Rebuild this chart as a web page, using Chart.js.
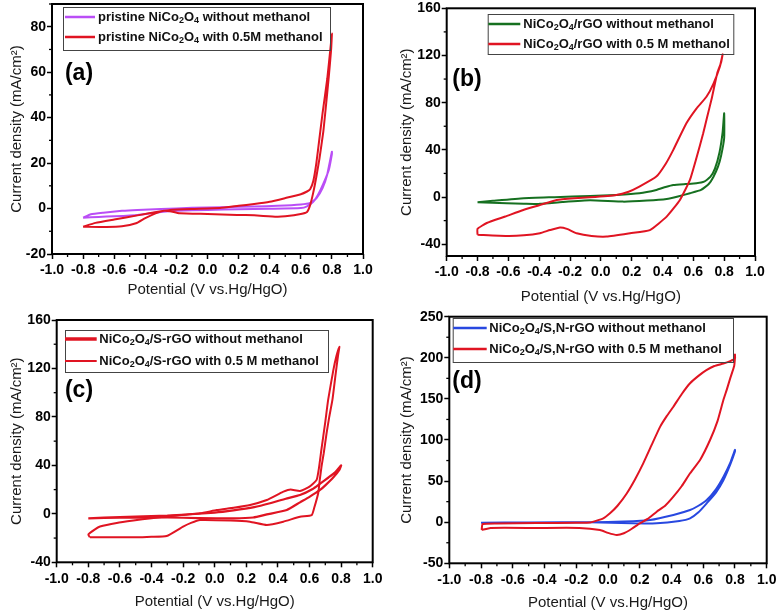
<!DOCTYPE html>
<html><head><meta charset="utf-8">
<script src="https://cdn.jsdelivr.net/npm/chart.js@4.4.1/dist/chart.umd.min.js"></script>
<style>
html,body{margin:0;padding:0;background:#fff;}
#wrap{position:relative;width:780px;height:612px;overflow:hidden;background:#fff;}
canvas{position:absolute;}
</style></head><body>
<div id="wrap">
<canvas id="ca" width="390" height="300" style="left:0;top:0"></canvas>
<canvas id="cb" width="390" height="310" style="left:390px;top:0"></canvas>
<canvas id="cc" width="390" height="312" style="left:0;top:300px"></canvas>
<canvas id="cd" width="390" height="312" style="left:390px;top:300px"></canvas>
</div>
<script>
// ---------- tick labels ----------
const potentialTicks = [-1.0,-0.8,-0.6,-0.4,-0.2,0.0,0.2,0.4,0.6,0.8,1.0];
const aCurrentTicks = [-20,0,20,40,60,80];
const bCurrentTicks = [-40,0,40,80,120,160];
const cCurrentTicks = [-40,0,40,80,120,160];
const dCurrentTicks = [-50,0,50,100,150,200,250];

// ---------- legend texts ----------
const aLabels = ['pristine NiCo_2O_4 without methanol','pristine NiCo_2O_4 with 0.5M methanol'];
const bLabels = ['NiCo_2O_4/rGO without methanol','NiCo_2O_4/rGO with 0.5 M methanol'];
const cLabels = ['NiCo_2O_4/S-rGO without methanol','NiCo_2O_4/S-rGO with 0.5 M methanol'];
const dLabels = ['NiCo_2O_4/S,N-rGO without methanol','NiCo_2O_4/S,N-rGO with 0.5 M methanol'];

// ---------- (a) pristine NiCo2O4 ----------
const aPlain_V = [-0.80,-0.75,-0.67,-0.55,-0.45,-0.30,-0.10,0.10,0.30,0.45,0.60,0.66,0.70,0.74,0.77,0.80,
                  0.80,0.78,0.745,0.71,0.68,0.64,0.60,0.40,0.20,0.00,-0.20,-0.30,-0.45,-0.60,-0.70,-0.80];
const aPlain_I = [-4.0,-2.5,-1.8,-1.0,-0.6,-0.2,0.3,0.6,0.9,1.2,1.8,2.5,4.5,9.0,15,25,
                  24,17,11,6,3.0,1.0,0.2,-0.1,-0.3,-0.6,-1.0,-1.5,-2.8,-3.4,-3.7,-4.0];
const aMeOH_V = [-0.80,-0.72,-0.60,-0.45,-0.30,-0.24,-0.10,0.08,0.20,0.30,0.40,0.50,0.60,0.64,0.66,0.68,0.70,0.72,0.74,0.77,0.79,0.80,
                 0.795,0.78,0.76,0.745,0.72,0.70,0.68,0.66,0.64,0.60,0.50,0.445,0.30,0.19,0.00,-0.18,-0.24,-0.28,-0.33,-0.40,-0.46,-0.55,-0.65,-0.80];
const aMeOH_I = [-8.0,-6.3,-4.8,-3.0,-1.2,-0.6,-0.2,0.2,1.2,2.0,3.0,4.6,6.3,7.5,8.5,12,20,31,42,57,70,77,
                 70,58,44,34,22,14,7,1.5,-1.5,-2.4,-3.4,-3.6,-3.0,-2.8,-2.4,-2.1,-1.2,-1.0,-2.0,-4.2,-6.5,-7.8,-8.1,-8.0];

// ---------- (b) NiCo2O4/rGO ----------
const bPlain_V = [-0.80,-0.70,-0.50,-0.30,-0.07,0.10,0.25,0.36,0.42,0.47,0.55,0.62,0.67,0.71,0.74,0.77,0.79,0.80,
                  0.80,0.78,0.76,0.73,0.70,0.65,0.578,0.50,0.427,0.30,0.145,-0.07,-0.25,-0.395,-0.50,-0.61,-0.80];
const bPlain_I = [-4.4,-3.2,-1.0,-0.1,0.9,1.8,3.2,6.0,8.5,10.2,11.0,11.6,13.0,17,24,38,55,71,
                  50,35,25.8,17,11,6,3.2,0.5,-1.6,-3.0,-3.9,-2.7,-4.2,-5.8,-5.6,-5.3,-4.4];
const bMeOH_V = [-0.80,-0.80,-0.74,-0.62,-0.503,-0.40,-0.287,-0.17,-0.07,0.10,0.18,0.25,0.36,0.42,0.47,0.555,0.62,0.685,0.73,0.772,0.79,
                 0.78,0.755,0.72,0.69,0.664,0.62,0.578,0.513,0.427,0.318,0.19,0.038,-0.06,-0.157,-0.22,-0.265,-0.33,-0.395,-0.50,-0.611,-0.80];
const bMeOH_I = [-32,-27,-22,-16.5,-11,-7,-2.5,-1.0,-0.2,1.8,4.5,8.8,17.3,28,40,62.5,75,85,96,110.5,121,
                 114,105,84,68,54,33,14.5,-2.5,-16.6,-28,-30.7,-33.5,-33,-30.7,-27,-25.8,-28,-30.7,-32.5,-33,-32];

// ---------- (c) NiCo2O4/S-rGO ----------
const cPlain_V = [-0.80,-0.60,-0.30,0.00,0.118,0.25,0.35,0.45,0.54,0.62,0.667,0.72,0.76,0.80,
                  0.79,0.75,0.70,0.667,0.60,0.54,0.456,0.33,0.244,0.118,-0.10,-0.30,-0.60,-0.80];
const cPlain_I = [-3.7,-2.6,-1.5,1.0,2.8,5.5,8.7,12.5,15.5,20.5,25,30,34,40,
                  36.5,30,23.5,19.7,14,9.5,3.1,-0.5,-3.0,-3.7,-3.5,-3.0,-3.2,-3.7];
const cMeOH_V = [-0.79,-0.80,-0.76,-0.726,-0.62,-0.515,-0.40,-0.304,-0.093,0.013,0.12,0.224,0.33,0.40,0.435,0.48,0.54,0.60,0.645,0.66,0.675,0.70,0.718,0.75,0.77,0.789,
                 0.78,0.765,0.745,0.725,0.708,0.69,0.676,0.665,0.655,0.63,0.614,0.54,0.434,0.33,0.223,0.10,-0.093,-0.15,-0.20,-0.304,-0.40,-0.515,-0.726,-0.79];
const cMeOH_I = [-19.4,-17,-13,-10.5,-7.5,-5.5,-3.6,-2.2,0.4,3.1,5.0,7.3,11.4,16,18.3,20,18.8,22.4,28,38,52.7,76,94,118,130,138,
                 130,115,94,80,66.5,50,39,28,17,5,-1,-2.4,-6.5,-9.2,-6.5,-5.5,-5.1,-7.5,-10.6,-18.3,-19,-19.4,-19.4,-19.4];

// ---------- (d) NiCo2O4/S,N-rGO ----------
const dPlain_V = [-0.80,-0.50,-0.10,0.10,0.265,0.412,0.517,0.57,0.622,0.68,0.727,0.77,0.80,
                  0.80,0.77,0.727,0.68,0.622,0.57,0.517,0.45,0.307,0.15,-0.113,-0.50,-0.80];
const dPlain_I = [-0.6,-0.3,0.0,0.8,2.7,8.8,14.8,20,27,40,55,72,88,
                  86,70,51,36,23,12,4.7,1.5,-1.4,-1.2,-0.2,-0.4,-0.6];
const dMeOH_V = [-0.796,-0.79,-0.70,-0.45,-0.20,-0.113,-0.03,0.0125,0.06,0.118,0.17,0.222,0.275,0.328,0.37,0.412,0.465,0.517,0.57,0.62,0.67,0.727,0.77,0.80,0.80,
                 0.80,0.795,0.77,0.748,0.727,0.69,0.643,0.58,0.517,0.465,0.412,0.36,0.307,0.25,0.20,0.15,0.10,0.055,0.00,-0.05,-0.18,-0.45,-0.74,-0.796];
const dMeOH_I = [-9.5,-2.2,-1.5,-1.0,-0.8,-0.5,4.7,10.8,20,35,52,71.6,94,116,129,140.5,156,169,178,185,190,193,196,199,204,
                 200,190,175,161,148.7,123,100,75.7,59.5,44,31,20,12.8,4,-1.4,-8,-13.5,-15.6,-13,-9.5,-7,-7,-7,-9.5];

// ---------- styling ----------
const RED = 'rgb(224,20,34)', PURPLE = 'rgb(186,78,246)', GREEN = 'rgb(22,112,32)', BLUE = 'rgb(40,72,224)';
const FONT = "'Liberation Sans', Arial, sans-serif";

function pts(V, I) { return V.map((v, i) => ({x: v, y: I[i]})); }
function ds(label, V, I, color, width, order) {
  return {label, data: pts(V, I), borderColor: color, backgroundColor: color, borderWidth: width,
          showLine: true, pointRadius: 0, tension: 0.15, fill: false, order};
}

function drawRich(ctx, text, x, y, size) {
  const parts = text.split(/_(\d)/);
  let cx = x;
  parts.forEach((p, i) => {
    if (!p) return;
    if (i % 2 === 1) {
      ctx.font = 'bold ' + Math.round(size * 0.72) + 'px ' + FONT;
      ctx.fillText(p, cx, y + size * 0.3);
    } else {
      ctx.font = 'bold ' + size + 'px ' + FONT;
      ctx.fillText(p, cx, y);
    }
    cx += ctx.measureText(p).width;
  });
}

const decor = {
  id: 'cvDecor',
  afterDraw(chart, args, o) {
    const ctx = chart.ctx, a = chart.chartArea;
    const xs = chart.scales.x, ys = chart.scales.y;
    ctx.save();
    // minor ticks
    ctx.strokeStyle = '#000'; ctx.lineWidth = 1.3;
    const eps = 1e-6;
    for (let v = xs.min; v <= xs.max + eps; v += o.xMinor) {
      if (potentialTicks.some(t => Math.abs(t - v) < eps)) continue;
      const px = xs.getPixelForValue(v);
      ctx.beginPath(); ctx.moveTo(px, a.bottom); ctx.lineTo(px, a.bottom + 3); ctx.stroke();
    }
    for (let v = o.yMinorStart; v <= ys.max + eps; v += o.yMinor) {
      if (o.yTicks.some(t => Math.abs(t - v) < eps)) continue;
      const py = ys.getPixelForValue(v);
      ctx.beginPath(); ctx.moveTo(a.left, py); ctx.lineTo(a.left - 3, py); ctx.stroke();
    }
    // frame
    ctx.lineWidth = 2; ctx.strokeStyle = '#000';
    ctx.strokeRect(a.left, a.top, a.right - a.left, a.bottom - a.top);
    // legend
    const L = o.legend;
    const bx = a.left + L.dx, by = a.top + L.dy;
    ctx.lineWidth = 1; ctx.strokeStyle = '#444';
    ctx.strokeRect(bx + 0.5, by + 0.5, L.w, L.h);
    ctx.textBaseline = 'middle'; ctx.textAlign = 'left'; ctx.fillStyle = '#111';
    chart.data.datasets.forEach((d, i) => {
      const ry = by + L.rows[i];
      ctx.strokeStyle = d.borderColor; ctx.lineWidth = L.lw[i];
      ctx.beginPath(); ctx.moveTo(bx + L.lineX, ry); ctx.lineTo(bx + L.lineX + L.lineLen, ry); ctx.stroke();
      ctx.fillStyle = '#111';
      drawRich(ctx, d.label, bx + L.textX, ry, 13);
    });
    // panel tag
    ctx.font = 'bold 23px ' + FONT; ctx.fillStyle = '#000'; ctx.textAlign = 'center';
    ctx.fillText(o.tag.text, a.left + o.tag.dx, a.top + o.tag.dy);
    ctx.restore();
  }
};

function makeChart(p) {
  const tickFont = {family: FONT, size: 14, weight: 'bold'};
  const titleFont = {family: FONT, size: 15};
  new Chart(document.getElementById(p.id), {
    type: 'scatter',
    data: {datasets: p.datasets},
    options: {
      responsive: false, animation: false, devicePixelRatio: 1,
      layout: {padding: {left: 0, bottom: 0, top: p.area.T - p.top, right: p.left + p.w - p.area.R}},
      plugins: {legend: {display: false}, tooltip: {enabled: false},
        cvDecor: {xMinor: 0.1, yMinor: p.yMinor, yMinorStart: p.yMinorStart, yTicks: p.yTicks, legend: p.legend, tag: p.tag}},
      scales: {
        x: {
          type: 'linear', min: -1, max: 1,
          afterBuildTicks: s => { s.ticks = potentialTicks.map(v => ({value: v})); },
          afterFit: s => { s.height = p.top + p.h - p.area.B; s.paddingLeft = 0; s.paddingRight = 0; },
          ticks: {callback: v => Number(v).toFixed(1), font: tickFont, color: '#000', padding: 3, autoSkip: false, maxRotation: 0, minRotation: 0},
          grid: {drawOnChartArea: false, drawTicks: true, tickLength: 5, tickColor: '#000', tickWidth: 1.5},
          border: {display: false},
          title: {display: true, text: 'Potential (V vs.Hg/HgO)', font: titleFont, color: '#1a1a1a', padding: {top: 0, bottom: p.xTitlePad}}
        },
        y: {
          type: 'linear', min: p.yMin, max: p.yMax,
          afterBuildTicks: s => { s.ticks = p.yTicks.map(v => ({value: v})); },
          afterFit: s => { s.width = p.area.L - p.left; s.paddingTop = 0; s.paddingBottom = 0; },
          ticks: {font: tickFont, color: '#000', padding: 1, autoSkip: false},
          grid: {drawOnChartArea: false, drawTicks: true, tickLength: 5, tickColor: '#000', tickWidth: 1.5},
          border: {display: false},
          title: {display: true, text: 'Current density (mA/cm\u00B2)', font: titleFont, color: '#1a1a1a', padding: {top: 8, bottom: 0}}
        }
      }
    },
    plugins: [decor]
  });
}

makeChart({
  id: 'ca', left: 0, top: 0, w: 390, h: 300,
  area: {L: 52, T: 4, R: 363, B: 254},
  yMin: -20, yMax: 90, yTicks: aCurrentTicks, yMinor: 10, yMinorStart: -10, xTitlePad: 1,
  legend: {dx: 11, dy: 3, w: 267, h: 43, rows: [10, 30], lineX: 2, lineLen: 30, textX: 35, lw: [2.5, 2.5]},
  tag: {text: '(a)', dx: 27, dy: 70},
  datasets: [ds(aLabels[0], aPlain_V, aPlain_I, PURPLE, 2, 2), ds(aLabels[1], aMeOH_V, aMeOH_I, RED, 2, 1)]
});
makeChart({
  id: 'cb', left: 390, top: 0, w: 390, h: 310,
  area: {L: 446.7, T: 8.3, R: 755, B: 256},
  yMin: -50, yMax: 160, yTicks: bCurrentTicks, yMinor: 20, yMinorStart: -40, xTitlePad: 4,
  legend: {dx: 41, dy: 5.7, w: 245.6, h: 40, rows: [10, 30], lineX: 0.6, lineLen: 32, textX: 35.6, lw: [2.5, 2.5]},
  tag: {text: '(b)', dx: 20.3, dy: 71.7},
  datasets: [ds(bLabels[0], bPlain_V, bPlain_I, GREEN, 2, 2), ds(bLabels[1], bMeOH_V, bMeOH_I, RED, 2, 1)]
});
makeChart({
  id: 'cc', left: 0, top: 300, w: 390, h: 312,
  area: {L: 56.7, T: 320, R: 372.7, B: 562.3},
  yMin: -40, yMax: 160, yTicks: cCurrentTicks, yMinor: 20, yMinorStart: -40, xTitlePad: 1,
  legend: {dx: 8.3, dy: 10, w: 263, h: 42, rows: [9, 31], lineX: 0, lineLen: 31.7, textX: 34.3, lw: [3.5, 2]},
  tag: {text: '(c)', dx: 22.3, dy: 71},
  datasets: [ds(cLabels[0], cPlain_V, cPlain_I, RED, 2.2, 2), ds(cLabels[1], cMeOH_V, cMeOH_I, RED, 2, 1)]
});
makeChart({
  id: 'cd', left: 390, top: 300, w: 390, h: 312,
  area: {L: 449.3, T: 316.7, R: 766.7, B: 563.3},
  yMin: -50, yMax: 250, yTicks: dCurrentTicks, yMinor: 25, yMinorStart: -50, xTitlePad: 0,
  legend: {dx: 3.4, dy: 1.3, w: 280.3, h: 44, rows: [10, 31], lineX: 0.6, lineLen: 33.4, textX: 36.6, lw: [2.5, 2.5]},
  tag: {text: '(d)', dx: 17.7, dy: 65.3},
  datasets: [ds(dLabels[0], dPlain_V, dPlain_I, BLUE, 2, 2), ds(dLabels[1], dMeOH_V, dMeOH_I, RED, 2, 1)]
});
</script>
</body></html>
